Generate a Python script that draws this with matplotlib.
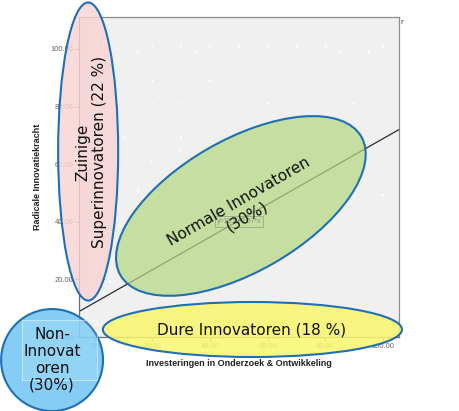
import matplotlib
matplotlib.use("Agg")
import matplotlib.pyplot as plt
from matplotlib.patches import Ellipse, Rectangle
from matplotlib.colors import to_rgba

# Observations (R&D investment vs. radical innovation power)
invest = [20, 30, 40, 50, 60, 70, 80, 100, 15, 35, 85, 95, 20, 40,
          20, 30, 60, 89.7, 10, 30, 60, 100, 19.8, 29.6, 10, 29.6,
          15.2, 5.4, 29.6]
radical = [101, 101, 101, 101, 101, 101, 101, 101, 99, 99, 99, 99, 89, 89,
           81, 81, 81, 81, 69.2, 69.2, 69.2, 49.3, 60.9, 64.9, 41.2, 51.6,
           51, 19.2, 32.5]

# Linear fit
intercept = 11.9
slope = 0.57
fit_label = "y=11.9+0.57*x"

tick_values = [0, 20, 40, 60, 80, 100]
tick_labels = [".00", "20.00", "40.00", "60.00", "80.00", "100.00"]

x_label = "Investeringen in Onderzoek & Ontwikkeling"
y_label = "Radicale Innovatiekracht"

# Segment groups: label, centre, width, height, angle, fill colour, text rotation
groups = [
    ("Zuinige\nSuperinnovatoren (22 %)", (-2.2, 64.4), 20.8, 103.5, 0, "#f9d3d3", 90),
    ("Normale Innovatoren\n(30%)", (50.7, 45.5), 96.3, 45.8, 30, "#b3d982", 30),
    ("Dure Innovatoren (18 %)", (54.7, 2.6), 103.6, 19.1, 0, "#f9f76c", 0),
    ("Non-\nInnovat\noren\n(30%)", (-14.7, -8.0), 35.3, 35.4, 0, "#74c7f3", 0),
]
group_alpha = [0.8, 0.72, 0.85, 0.88]
text_pos = [(-1.2, 64.2), (51.3, 44.4), (54.4, 2.4), (-14.7, -8.0)]

fig = plt.figure(figsize=(4.6, 4.11), dpi=100)
ax = fig.add_axes([79 / 460, (411 - 337) / 411, 320 / 460, 320 / 411])
ax.set_facecolor("#f0f0f0")
ax.set_xlim(-5.37, 105.47)
ax.set_ylim(0, 111.1)

for side in ("top", "right"):
    ax.spines[side].set_color("#8c8c8c")
for side in ("left", "bottom"):
    ax.spines[side].set_color("#707070")
for s in ax.spines.values():
    s.set_linewidth(0.9)

ax.set_xticks(tick_values)
ax.set_xticklabels(tick_labels)
ax.set_yticks(tick_values)
ax.set_yticklabels(tick_labels)
ax.tick_params(axis="both", direction="out", length=3, width=0.6,
               color="#777777", labelcolor="#666666", labelsize=5.5, pad=1)
for lab in ax.get_xticklabels() + ax.get_yticklabels():
    lab.set_fontfamily("Liberation Sans")

ax.set_xlabel(x_label, fontsize=6.5, fontweight="bold", family="Liberation Sans",
              color="#222222", labelpad=7)
ax.set_ylabel(y_label, fontsize=6.5, fontweight="bold", family="Liberation Sans",
              color="#222222", labelpad=6)

ax.scatter(invest, radical, s=3, color="white", edgecolors="none", zorder=1.5)

xs = [-5.37, 105.47]
ax.plot(xs, [intercept + slope * v for v in xs], color="#2b2b2b", lw=0.9, zorder=1.6)

for (label, c, w, h, ang, col, rot), a in zip(groups, group_alpha):
    e = Ellipse(c, w, h, angle=ang, facecolor=to_rgba(col, a),
                edgecolor="#1f6fb4", lw=1.5, zorder=3, clip_on=False)
    ax.add_patch(e)

# text box inside the non-innovator circle
ax.add_patch(Rectangle((-25.1, -14.9), 26.0, 20.8, facecolor=to_rgba("white", 0.12),
                       edgecolor=to_rgba("white", 0.45), lw=0.8, zorder=3.1, clip_on=False))

ax.text(50.2, 40.1, fit_label, fontsize=5, color="#8a9a80", ha="center", va="center",
        family="Liberation Sans", zorder=3.2,
        bbox=dict(boxstyle="square,pad=0.25", facecolor="none", edgecolor="#9aa890", lw=0.6))

for (label, c, w, h, ang, col, rot), tp in zip(groups, text_pos):
    ax.text(tp[0], tp[1], label, fontsize=11, family="DejaVu Sans", color="#111111",
            rotation=rot, rotation_mode="anchor", ha="center", va="center",
            multialignment="center", linespacing=1.15, zorder=4, clip_on=False)

fig.text(400 / 460, 1 - 22 / 411, "r", fontsize=5, color="#333333", ha="left", va="center")

fig.savefig("out.png", dpi=100)
